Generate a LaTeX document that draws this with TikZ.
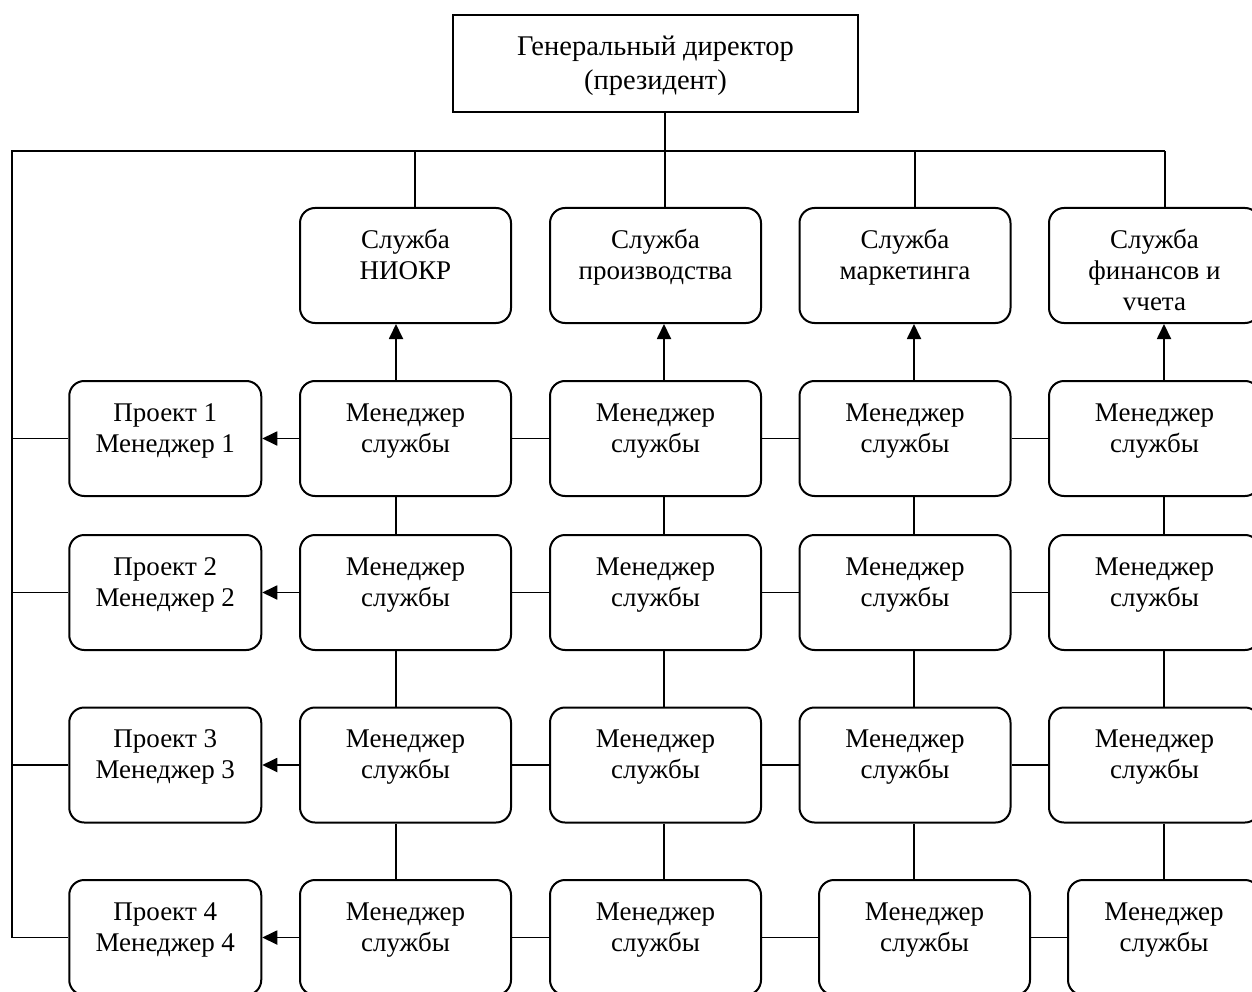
\documentclass[tikz,border=0pt]{standalone}
\usepackage{fontspec}
\setmainfont{Liberation Serif}
\usetikzlibrary{arrows.meta}

% a box node with its caption hung from the top edge:
% the rule fixes the first baseline 41pt below the box top
\newcommand{\orgbox}[7]{%
  \node[#1, minimum width=#5, minimum height=#6] (#2) at (#3,#4) {};
  \node[txt] (#2-t) at ([yshift=-19pt]#2.north) {\rule{0pt}{22pt}#7};
}

\begin{document}
\begin{tikzpicture}[x=1pt,y=-1pt,
  box/.style={draw, line width=2pt, rounded corners=15pt, inner sep=0pt},
  chief/.style={draw, line width=2pt, inner sep=0pt},
  txt/.style={align=center, inner sep=0pt, anchor=north,
              font=\fontsize{27}{31}\selectfont},
  link/.style={line width=1.8pt},
  arr/.style={link, -{Triangle[length=15pt,width=14pt]}}]

\clip (0,0) rectangle (1252,992);

% general director
\node[chief, minimum width=405pt, minimum height=96.5pt] (top) at (655.5,63.75) {};
\node[txt, font=\fontsize{28.5}{33.5}\selectfont] (top-t) at ([yshift=-19pt]top.north)
  {\rule{0pt}{22pt}Генеральный директор\\(президент)};

% services
\orgbox{box}{s1}{405.5}{265.5}{211pt}{115pt}{Служба\\НИОКР}
\orgbox{box}{s2}{655.5}{265.5}{211pt}{115pt}{Служба\\производства}
\orgbox{box}{s3}{905}{265.5}{211pt}{115pt}{Служба\\маркетинга}
\orgbox{box}{s4}{1154.5}{265.5}{211pt}{115pt}{Служба\\финансов и\\vчета}

% projects
\orgbox{box}{p1}{165.25}{438.5}{192pt}{115pt}{Проект 1\\Менеджер 1}
\orgbox{box}{p2}{165.25}{592.5}{192pt}{115pt}{Проект 2\\Менеджер 2}
\orgbox{box}{p3}{165.25}{765}{192pt}{115pt}{Проект 3\\Менеджер 3}
\orgbox{box}{p4}{165.25}{937.5}{192pt}{115pt}{Проект 4\\Менеджер 4}

% service managers, rows 1-3
\foreach \r/\y in {1/438.5, 2/592.5, 3/765}{
  \orgbox{box}{m\r1}{405.5}{\y}{211pt}{115pt}{Менеджер\\службы}
  \orgbox{box}{m\r2}{655.5}{\y}{211pt}{115pt}{Менеджер\\службы}
  \orgbox{box}{m\r3}{905}{\y}{211pt}{115pt}{Менеджер\\службы}
  \orgbox{box}{m\r4}{1154.5}{\y}{211pt}{115pt}{Менеджер\\службы}
}
% service managers, row 4
\orgbox{box}{m41}{405.5}{937.5}{211pt}{115pt}{Менеджер\\службы}
\orgbox{box}{m42}{655.5}{937.5}{211pt}{115pt}{Менеджер\\службы}
\orgbox{box}{m43}{924.5}{937.5}{211pt}{115pt}{Менеджер\\службы}
\orgbox{box}{m44}{1164}{937.5}{192pt}{115pt}{Менеджер\\службы}

% bus lines
\coordinate (busL) at (12,151);
\coordinate (busR) at (1165,151);
\coordinate (busB) at (12,938);
\coordinate (d1) at (415,151);
\coordinate (d2) at (665,151);
\coordinate (d3) at (915,151);
\coordinate (d4) at (1165,151);

% column lines
\coordinate (c1) at (396,0);
\coordinate (c2) at (664,0);
\coordinate (c3) at (914,0);
\coordinate (c4) at (1164,0);

\draw[link] (top.south -| d2) -- (d2);
\draw[link] (busR) -- (busL) -- (busB);
\foreach \i in {1,...,4}{
  \draw[link] (d\i) -- (d\i |- s\i.north);
  \draw[arr] (m1\i.north -| c\i) -- (s\i.south -| c\i);
}

% project links
\foreach \r in {1,...,4}{
  \draw[link] (p\r.west -| busL) -- (p\r.west);
  \draw[arr] (m\r1.west) -- (p\r.east);
  \draw[link] (m\r1.east) -- (m\r2.west);
  \draw[link] (m\r2.east) -- (m\r3.west);
  \draw[link] (m\r3.east) -- (m\r4.west);
}

% vertical links between manager rows
\foreach \r/\n in {1/2, 2/3, 3/4}{
  \foreach \i in {1,...,4}{
    \draw[link] (m\r\i.south -| c\i) -- (m\n\i.north -| c\i);
  }
}
\end{tikzpicture}
\end{document}
